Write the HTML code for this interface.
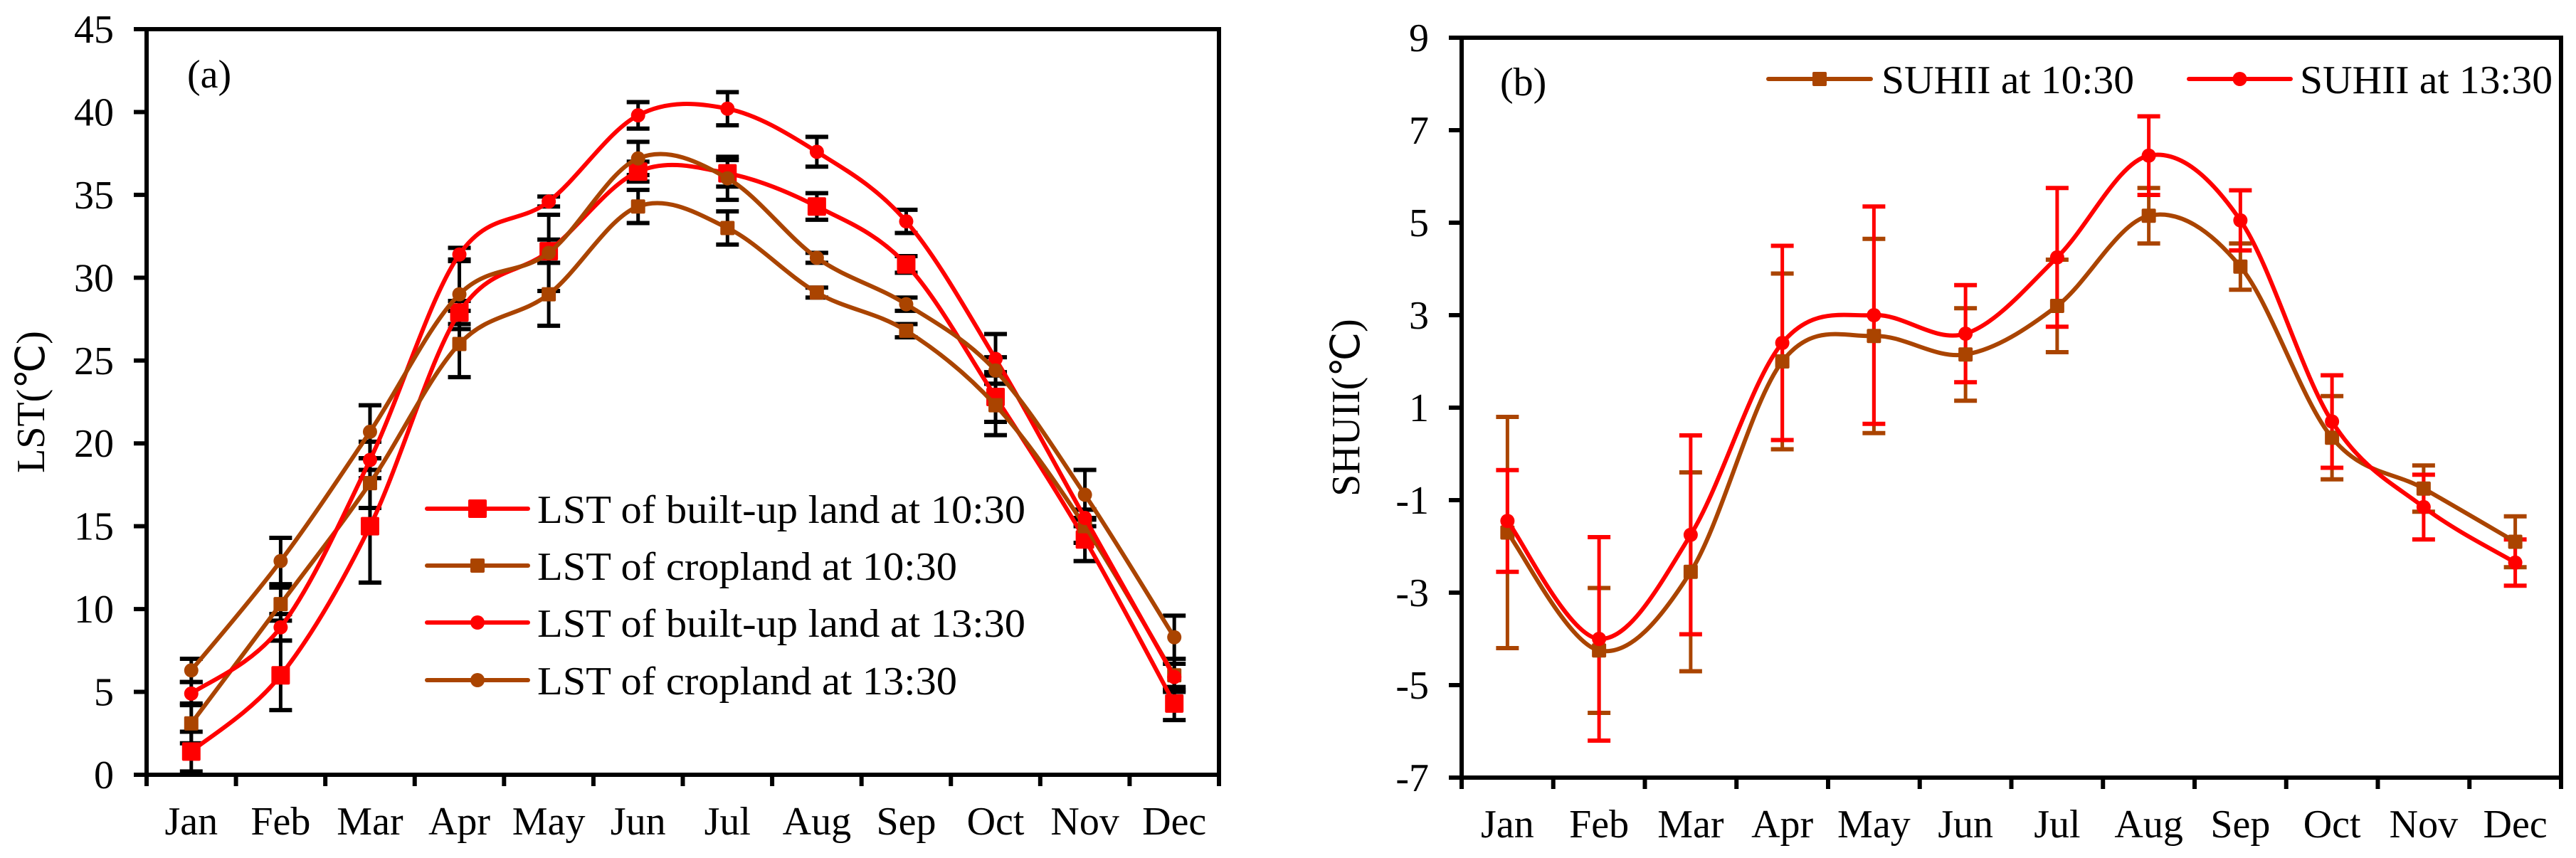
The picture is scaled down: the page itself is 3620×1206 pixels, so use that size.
<!DOCTYPE html>
<html><head><meta charset="utf-8">
<style>
html,body{margin:0;padding:0;background:#fff;}
svg{display:block;}
text{font-family:"Liberation Serif",serif;fill:#000;}
</style></head>
<body>
<svg id="chart" width="3620" height="1206" viewBox="0 0 3620 1206" xmlns="http://www.w3.org/2000/svg"></svg>
<script>
const months = ["Jan","Feb","Mar","Apr","May","Jun","Jul","Aug","Sep","Oct","Nov","Dec"];
// Panel (a) data
const builtup1030 = [1.4, 6.0, 15.0, 27.9, 31.6, 36.4, 36.3, 34.3, 30.8, 22.8, 14.2, 4.3];
const builtup1030Err = [1.2, 2.1, 3.4, 0.7, 0.7, 0.6, 0.8, 0.8, 0.5, 1.5, 1.3, 1.0];
const cropland1030 = [3.1, 10.3, 17.6, 26.0, 29.0, 34.3, 33.0, 29.1, 26.8, 22.3, 15.0, 6.0];
const cropland1030Err = [1.2, 1.0, 1.5, 2.0, 1.9, 1.0, 1.0, 0.3, 0.4, 1.8, 1.0, 1.0];
const builtup1330 = [4.9, 8.9, 19.0, 31.4, 34.6, 39.8, 40.2, 37.6, 33.4, 25.1, 15.5, 5.9];
const builtup1330Err = [0.7, 0.8, 1.1, 0.4, 0.3, 0.8, 1.0, 0.9, 0.7, 1.5, 0.5, 0.8];
const cropland1330 = [6.3, 12.9, 20.7, 29.0, 31.5, 37.2, 36.0, 31.2, 28.4, 24.4, 16.9, 8.3];
const cropland1330Err = [0.7, 1.4, 1.6, 2.1, 2.3, 1.0, 1.3, 0.3, 0.4, 0.8, 1.5, 1.3];
const lstTicks = [0,5,10,15,20,25,30,35,40,45];
// Panel (b) data
const suhii1030 = [-1.7, -4.25, -2.55, 2.0, 2.55, 2.15, 3.2, 5.15, 4.05, 0.35, -0.75, -1.9];
const suhii1030Err = [2.5, 1.35, 2.15, 1.9, 2.1, 1.0, 1.0, 0.6, 0.5, 0.9, 0.5, 0.55];
const suhii1330 = [-1.45, -4.0, -1.75, 2.4, 3.0, 2.6, 4.25, 6.45, 5.05, 0.7, -1.15, -2.35];
const suhii1330Err = [1.1, 2.2, 2.15, 2.1, 2.35, 1.05, 1.5, 0.85, 0.65, 1.0, 0.7, 0.5];
const suhiiTicks = [-7,-5,-3,-1,1,3,5,7,9];

const RED = "#ff0000", BROWN = "#aa4400";
const NS = "http://www.w3.org/2000/svg";
const svg = document.getElementById("chart");
function mk(tag, attrs, parent){
  const e = document.createElementNS(NS, tag);
  for (const k in attrs) e.setAttribute(k, attrs[k]);
  (parent || svg).appendChild(e);
  return e;
}
function smoothPath(pts){
  let d = "M" + pts[0][0] + "," + pts[0][1];
  for (let i = 0; i < pts.length - 1; i++){
    const p0 = pts[i-1] || pts[i], p1 = pts[i], p2 = pts[i+1], p3 = pts[i+2] || p2;
    const c1x = p1[0] + (p2[0]-p0[0])/6, c1y = p1[1] + (p2[1]-p0[1])/6;
    const c2x = p2[0] - (p3[0]-p1[0])/6, c2y = p2[1] - (p3[1]-p1[1])/6;
    d += " C" + c1x + "," + c1y + " " + c2x + "," + c2y + " " + p2[0] + "," + p2[1];
  }
  return d;
}
function marker(g, kind, x, y, size, color){
  let m;
  if (kind === "square") m = mk("rect", {x:x-size/2, y:y-size/2, width:size, height:size, rx:2, fill:color}, g);
  else m = mk("circle", {cx:x, cy:y, r:size/2, fill:color}, g);
  return m;
}

function panel(cfg){
  const g = mk("g", {});
  
  
  const L = cfg.left, R = cfg.right, T = cfg.top, B = cfg.bottom;
  const xs = i => L + (R-L)/12*(i+0.5);
  const ys = v => B - (v - cfg.ymin)/(cfg.ymax - cfg.ymin)*(B-T);
  // frame
  const fr = mk("rect", {x:L, y:T, width:R-L, height:B-T, fill:"none", stroke:"#000", "stroke-width":6}, g);
  
  
  // y ticks
  cfg.ticks.forEach(v => {
    const y = ys(v);
    const t = mk("line", {x1:L-18, x2:L, y1:y, y2:y, stroke:"#000", "stroke-width":6}, g);
    
    
    const lb = mk("text", {x:L-46, y:y+19, "text-anchor":"end", "font-size":56}, g);
    lb.textContent = String(v);
    
    
  });
  // x ticks
  for (let i = 0; i <= 12; i++){
    const x = L + (R-L)/12*i;
    const t = mk("line", {x1:x, x2:x, y1:B, y2:B+16, stroke:"#000", "stroke-width":6}, g);
    
    
  }
  months.forEach((m, i) => {
    const lb = mk("text", {x:xs(i), y:B+84, "text-anchor":"middle", "font-size":56}, g);
    lb.textContent = m;
    
    
  });
  // y title
  const yt = mk("text", {x:0, y:0, "text-anchor":"middle", "font-size":56, transform:"translate(" + cfg.titleX + "," + (T+B)/2 + ") rotate(-90)"}, g);
  yt.textContent = cfg.ytitle;
  
  
  // panel label
  const pl = mk("text", {x:cfg.labelX, y:cfg.labelY, "font-size":56}, g);
  pl.textContent = cfg.label;
  
  
  // error bars
  cfg.series.forEach(s => {
    const eg = mk("g", {}, g);
    
    
    const ec = cfg.errColor || s.color;
    s.values.forEach((v, i) => {
      const x = xs(i), y1 = ys(v + s.err[i]), y2 = ys(v - s.err[i]);
      mk("line", {x1:x, x2:x, y1:y1, y2:y2, stroke:ec, "stroke-width":5}, eg);
      mk("line", {x1:x-16, x2:x+16, y1:y1, y2:y1, stroke:ec, "stroke-width":6}, eg);
      mk("line", {x1:x-16, x2:x+16, y1:y2, y2:y2, stroke:ec, "stroke-width":6}, eg);
    });
  });
  // lines and markers
  cfg.series.forEach(s => {
    const pts = s.values.map((v, i) => [xs(i), ys(v)]);
    const p = mk("path", {d:smoothPath(pts), fill:"none", stroke:s.color, "stroke-width":6, "stroke-linecap":"round"}, g);
    
    
    pts.forEach(pt => {
      const m = marker(g, s.kind, pt[0], pt[1], s.size, s.color);
      
      
    });
  });
  // legend
  cfg.legend.forEach(l => {
    const s = cfg.series[l.idx];
    const lg = mk("g", {}, g);
    
    
    mk("line", {x1:l.x1, x2:l.x2, y1:l.y, y2:l.y, stroke:s.color, "stroke-width":6, "stroke-linecap":"round"}, lg);
    marker(lg, s.kind, (l.x1+l.x2)/2, l.y, s.size, s.color);
    const t = mk("text", {x:l.tx, y:l.y+20, "font-size":56, textLength:l.tw, lengthAdjust:"spacingAndGlyphs"}, lg);
    t.textContent = s.label;
  });
}

panel({
  name:"panel-a-lst", left:206, right:1713, top:41, bottom:1089, ymin:0, ymax:45,
  ticks:lstTicks, ytitle:"LST(℃)", titleX:62, label:"(a)", labelX:263, labelY:123,
  errColor:"#000",
  series:[
    {name:"builtup-1030", label:"LST of built-up land at 10:30", values:builtup1030, err:builtup1030Err, color:RED, kind:"square", size:26},
    {name:"cropland-1030", label:"LST of cropland at 10:30", values:cropland1030, err:cropland1030Err, color:BROWN, kind:"square", size:20},
    {name:"builtup-1330", label:"LST of built-up land at 13:30", values:builtup1330, err:builtup1330Err, color:RED, kind:"circle", size:20},
    {name:"cropland-1330", label:"LST of cropland at 13:30", values:cropland1330, err:cropland1330Err, color:BROWN, kind:"circle", size:20}
  ],
  legend:[
    {idx:0, x1:600, x2:742, y:715, tx:755, tw:686},
    {idx:1, x1:600, x2:742, y:795, tx:755, tw:590},
    {idx:2, x1:600, x2:742, y:875, tx:755, tw:686},
    {idx:3, x1:600, x2:742, y:956, tx:755, tw:590}
  ]
});

panel({
  name:"panel-b-suhii", left:2054, right:3599, top:53, bottom:1093, ymin:-7, ymax:9,
  ticks:suhiiTicks, ytitle:"SHUII(℃)", titleX:1910, label:"(b)", labelX:2108, labelY:134,
  series:[
    {name:"suhii-1030", label:"SUHII at 10:30", values:suhii1030, err:suhii1030Err, color:BROWN, kind:"square", size:20},
    {name:"suhii-1330", label:"SUHII at 13:30", values:suhii1330, err:suhii1330Err, color:RED, kind:"circle", size:20}
  ],
  legend:[
    {idx:0, x1:2485, x2:2629, y:111, tx:2644, tw:355},
    {idx:1, x1:3076, x2:3219, y:111, tx:3232, tw:355}
  ]
});
</script>
</body></html>
